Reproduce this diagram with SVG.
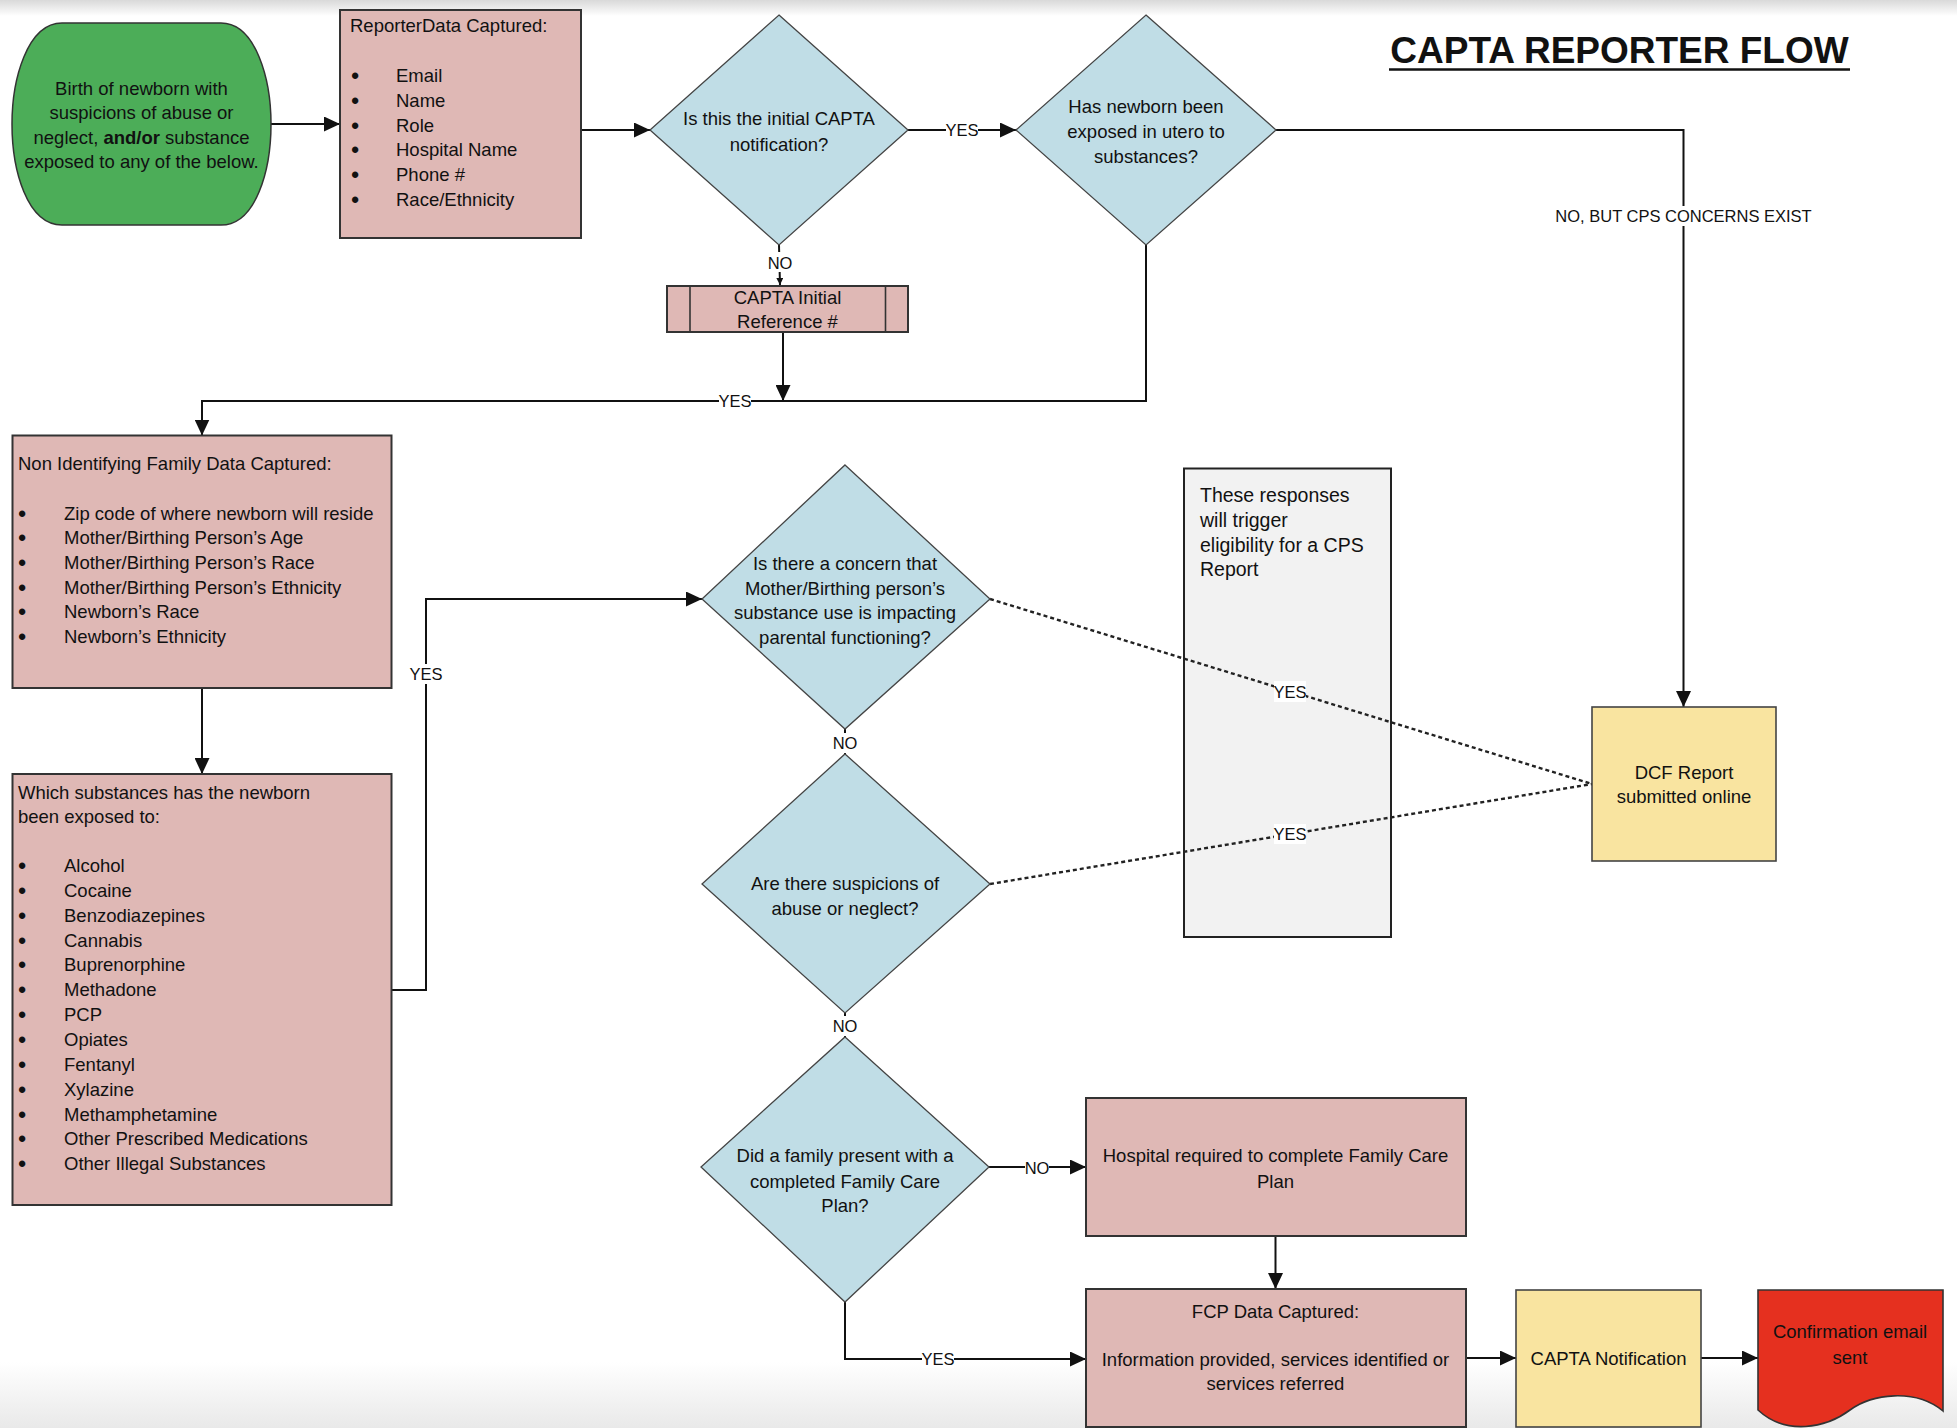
<svg xmlns="http://www.w3.org/2000/svg" width="1957" height="1428" viewBox="0 0 1957 1428">
  <defs>
    <linearGradient id="topShade" x1="0" y1="0" x2="0" y2="1">
      <stop offset="0" stop-color="#d9d9d9"/>
      <stop offset="1" stop-color="#ffffff"/>
    </linearGradient>
    <linearGradient id="bottomShade" x1="0" y1="0" x2="0" y2="1">
      <stop offset="0" stop-color="#ffffff"/>
      <stop offset="1" stop-color="#e9e9e9"/>
    </linearGradient>
    <marker id="arrow" viewBox="0 0 16 15" markerWidth="16" markerHeight="15" refX="16" refY="7.5" orient="auto" markerUnits="userSpaceOnUse">
      <path d="M0,0 L16,7.5 L0,15 Z" fill="#111"/>
    </marker>
    <marker id="arrowSmall" viewBox="0 0 7 7" markerWidth="7" markerHeight="7" refX="7" refY="3.5" orient="auto" markerUnits="userSpaceOnUse">
      <path d="M0,0 L7,3.5 L0,7 Z" fill="#111"/>
    </marker>
  </defs>
  <style>
    text { font-family: "Liberation Sans", Arial, sans-serif; font-size: 18.5px; fill: #111; }
    .c { text-anchor: middle; }
    .b { font-size: 22px; text-anchor: middle; font-weight: bold; }
    .lbl { font-size: 16.5px; text-anchor: middle; }
    .note { font-size: 19.5px; }
    .title { font-size: 37px; font-weight: bold; text-anchor: middle; }
    .box { fill: #dfb8b5; stroke: #333; stroke-width: 2; }
    .dia { fill: #c0dde6; stroke: #444; stroke-width: 1.3; }
    .yel { fill: #f9e4a0; stroke: #444; stroke-width: 1.6; }
    .wire { fill: none; stroke: #111; stroke-width: 2; }
    .dot { fill: none; stroke: #222; stroke-width: 2.4; stroke-dasharray: 4 3; }
    .bg { fill: #ffffff; }
  </style>

  <!-- page background with soft edge shading -->
  <rect x="0" y="0" width="1957" height="1428" fill="#ffffff"/>
  <rect x="0" y="0" width="1957" height="16" fill="url(#topShade)"/>
  <rect x="0" y="1362" width="1957" height="66" fill="url(#bottomShade)"/>

  <!-- heading -->
  <g id="heading">
    <text class="title" x="1619.5" y="63">CAPTA REPORTER FLOW</text>
    <line x1="1389" y1="69.5" x2="1850" y2="69.5" stroke="#111" stroke-width="2.5"/>
  </g>

  <!-- note on CPS eligibility (sits beneath the dotted connectors) -->
  <g id="cps-note">
    <rect x="1184" y="468.5" width="207" height="468.5" fill="#f2f2f2" stroke="#222" stroke-width="2"/>
    <text class="note" x="1200" y="502">These responses</text>
    <text class="note" x="1200" y="527">will trigger</text>
    <text class="note" x="1200" y="551.5">eligibility for a CPS</text>
    <text class="note" x="1200" y="576">Report</text>
  </g>

  <!-- connectors -->
  <g id="connectors">
    <line class="wire" x1="271" y1="124" x2="340" y2="124" marker-end="url(#arrow)"/>
    <line class="wire" x1="581" y1="130" x2="650" y2="130" marker-end="url(#arrow)"/>
    <line class="wire" x1="908" y1="130" x2="1016" y2="130" marker-end="url(#arrow)"/>
    <line class="wire" x1="779" y1="245" x2="780" y2="285" stroke-width="1.5" marker-end="url(#arrowSmall)"/>
    <line class="wire" x1="783" y1="332" x2="783" y2="401" marker-end="url(#arrow)"/>
    <polyline class="wire" points="1146,245 1146,401 202,401 202,435.5" marker-end="url(#arrow)"/>
    <polyline class="wire" points="1276,130 1683.5,130 1683.5,707" marker-end="url(#arrow)"/>
    <line class="wire" x1="202" y1="688" x2="202" y2="774" marker-end="url(#arrow)"/>
    <polyline class="wire" points="392,990 426,990 426,599 702,599" marker-end="url(#arrow)"/>
    <line class="wire" x1="845" y1="729" x2="845" y2="754"/>
    <line class="wire" x1="845" y1="1013" x2="845" y2="1037"/>
    <line class="dot" x1="990" y1="599" x2="1592" y2="784"/>
    <line class="dot" x1="990" y1="884" x2="1592" y2="784"/>
    <line class="wire" x1="989" y1="1167" x2="1086" y2="1167" marker-end="url(#arrow)"/>
    <line class="wire" x1="1275.5" y1="1236" x2="1275.5" y2="1289" marker-end="url(#arrow)"/>
    <polyline class="wire" points="845,1302 845,1359 1086,1359" marker-end="url(#arrow)"/>
    <line class="wire" x1="1466" y1="1358" x2="1516" y2="1358" marker-end="url(#arrow)"/>
    <line class="wire" x1="1701" y1="1358" x2="1758" y2="1358" marker-end="url(#arrow)"/>

    <!-- connector labels -->
    <rect class="bg" x="946" y="121" width="32" height="18"/>
    <text class="lbl" x="962" y="136">YES</text>
    <rect class="bg" x="768" y="252" width="24" height="20"/>
    <text class="lbl" x="780" y="269">NO</text>
    <rect class="bg" x="719" y="392" width="32" height="18"/>
    <text class="lbl" x="735" y="407">YES</text>
    <rect class="bg" x="1556" y="206" width="255" height="20"/>
    <text class="lbl" x="1683.5" y="222">NO, BUT CPS CONCERNS EXIST</text>
    <rect class="bg" x="410" y="664" width="32" height="20"/>
    <text class="lbl" x="426" y="680">YES</text>
    <rect class="bg" x="833" y="733" width="24" height="20"/>
    <text class="lbl" x="845" y="749">NO</text>
    <rect class="bg" x="833" y="1016" width="24" height="20"/>
    <text class="lbl" x="845" y="1032">NO</text>
    <rect class="bg" x="1025" y="1158" width="24" height="18"/>
    <text class="lbl" x="1037" y="1174">NO</text>
    <rect class="bg" x="922" y="1350" width="32" height="18"/>
    <text class="lbl" x="938" y="1365">YES</text>
    <rect class="bg" x="1274" y="681" width="32" height="21"/>
    <text class="lbl" x="1290" y="697.5">YES</text>
    <rect class="bg" x="1274" y="824" width="32" height="20"/>
    <text class="lbl" x="1290" y="840">YES</text>
  </g>

  <!-- start: birth of newborn -->
  <g id="start">
    <path d="M62,23 H221 C256,23 271,80 271,124 C271,170 256,225 221,225 H62 C27,225 12,170 12,124 C12,80 27,23 62,23 Z" fill="#4cad58" stroke="#333" stroke-width="1.5"/>
    <text class="c" x="141.5" y="94.5">Birth of newborn with</text>
    <text class="c" x="141.5" y="119">suspicions of abuse or</text>
    <text class="c" x="141.5" y="143.5">neglect, <tspan font-weight="bold">and/or</tspan> substance</text>
    <text class="c" x="141.5" y="168">exposed to any of the below.</text>
  </g>

  <!-- reporter data -->
  <g id="reporter-data">
    <rect class="box" x="340" y="10" width="241" height="228"/>
    <text x="350" y="32">ReporterData Captured:</text>
    <text class="b" x="355" y="82.5">•</text>
    <text class="b" x="355" y="107.5">•</text>
    <text class="b" x="355" y="132.5">•</text>
    <text class="b" x="355" y="156.5">•</text>
    <text class="b" x="355" y="181.5">•</text>
    <text class="b" x="355" y="206.5">•</text>
    <text x="396" y="81.5">Email</text>
    <text x="396" y="106.5">Name</text>
    <text x="396" y="131.5">Role</text>
    <text x="396" y="155.5">Hospital Name</text>
    <text x="396" y="180.5">Phone #</text>
    <text x="396" y="205.5">Race/Ethnicity</text>
  </g>

  <!-- decision: initial notification -->
  <g id="q-initial">
    <polygon class="dia" points="779,15 908,130 779,245 650,130"/>
    <text class="c" x="779" y="124.5">Is this the initial CAPTA</text>
    <text class="c" x="779" y="150.5">notification?</text>
  </g>

  <!-- decision: exposed in utero -->
  <g id="q-exposed">
    <polygon class="dia" points="1146,15 1276,130 1146,245 1016,130"/>
    <text class="c" x="1146" y="112.5">Has newborn been</text>
    <text class="c" x="1146" y="137.5">exposed in utero to</text>
    <text class="c" x="1146" y="162.5">substances?</text>
  </g>

  <!-- initial reference number -->
  <g id="initial-reference">
    <rect class="box" x="667" y="286" width="241" height="46" stroke-width="1.6"/>
    <line x1="690" y1="286" x2="690" y2="332" stroke="#333" stroke-width="1.6"/>
    <line x1="885.5" y1="286" x2="885.5" y2="332" stroke="#333" stroke-width="1.6"/>
    <text class="c" x="787.5" y="304">CAPTA Initial</text>
    <text class="c" x="787.5" y="328">Reference #</text>
  </g>

  <!-- non identifying family data -->
  <g id="family-data">
    <rect class="box" x="12.5" y="435.5" width="379" height="252.5"/>
    <text x="18" y="470">Non Identifying Family Data Captured:</text>
    <text class="b" x="22" y="520.5">•</text>
    <text class="b" x="22" y="545">•</text>
    <text class="b" x="22" y="569.5">•</text>
    <text class="b" x="22" y="594.5">•</text>
    <text class="b" x="22" y="619">•</text>
    <text class="b" x="22" y="644">•</text>
    <text x="64" y="519.5">Zip code of where newborn will reside</text>
    <text x="64" y="544">Mother/Birthing Person’s Age</text>
    <text x="64" y="568.5">Mother/Birthing Person’s Race</text>
    <text x="64" y="593.5">Mother/Birthing Person’s Ethnicity</text>
    <text x="64" y="618">Newborn’s Race</text>
    <text x="64" y="643">Newborn’s Ethnicity</text>
  </g>

  <!-- substances list -->
  <g id="substances">
    <rect class="box" x="12.5" y="774" width="379" height="431"/>
    <text x="18" y="799">Which substances has the newborn</text>
    <text x="18" y="823">been exposed to:</text>
    <text class="b" x="22" y="873">•</text>
    <text class="b" x="22" y="897.9">•</text>
    <text class="b" x="22" y="922.7">•</text>
    <text class="b" x="22" y="947.6">•</text>
    <text class="b" x="22" y="972.4">•</text>
    <text class="b" x="22" y="997.3">•</text>
    <text class="b" x="22" y="1022.1">•</text>
    <text class="b" x="22" y="1047">•</text>
    <text class="b" x="22" y="1071.8">•</text>
    <text class="b" x="22" y="1096.7">•</text>
    <text class="b" x="22" y="1121.5">•</text>
    <text class="b" x="22" y="1146.4">•</text>
    <text class="b" x="22" y="1171.2">•</text>
    <text x="64" y="872">Alcohol</text>
    <text x="64" y="896.9">Cocaine</text>
    <text x="64" y="921.7">Benzodiazepines</text>
    <text x="64" y="946.6">Cannabis</text>
    <text x="64" y="971.4">Buprenorphine</text>
    <text x="64" y="996.3">Methadone</text>
    <text x="64" y="1021.1">PCP</text>
    <text x="64" y="1046">Opiates</text>
    <text x="64" y="1070.8">Fentanyl</text>
    <text x="64" y="1095.7">Xylazine</text>
    <text x="64" y="1120.5">Methamphetamine</text>
    <text x="64" y="1145.4">Other Prescribed Medications</text>
    <text x="64" y="1170.2">Other Illegal Substances</text>
  </g>

  <!-- decision: parental functioning -->
  <g id="q-parental">
    <polygon class="dia" points="845,465 990,599 845,729 702,599"/>
    <text class="c" x="845" y="570">Is there a concern that</text>
    <text class="c" x="845" y="594.5">Mother/Birthing person’s</text>
    <text class="c" x="845" y="619">substance use is impacting</text>
    <text class="c" x="845" y="644">parental functioning?</text>
  </g>

  <!-- decision: abuse or neglect -->
  <g id="q-abuse">
    <polygon class="dia" points="845,754 990,884 845,1013 702,884"/>
    <text class="c" x="845" y="890">Are there suspicions of</text>
    <text class="c" x="845" y="914.5">abuse or neglect?</text>
  </g>

  <!-- decision: family care plan -->
  <g id="q-care-plan">
    <polygon class="dia" points="845,1037 989,1167 845,1302 701,1167"/>
    <text class="c" x="845" y="1161.5">Did a family present with a</text>
    <text class="c" x="845" y="1187.5">completed Family Care</text>
    <text class="c" x="845" y="1211.5">Plan?</text>
  </g>

  <!-- DCF report -->
  <g id="dcf-report">
    <rect class="yel" x="1592" y="707" width="184" height="154"/>
    <text class="c" x="1684" y="779">DCF Report</text>
    <text class="c" x="1684" y="803">submitted online</text>
  </g>

  <!-- hospital completes plan -->
  <g id="hospital-plan">
    <rect class="box" x="1086" y="1098" width="380" height="138" stroke-width="1.6"/>
    <text class="c" x="1275.5" y="1162">Hospital required to complete Family Care</text>
    <text class="c" x="1275.5" y="1187.5">Plan</text>
  </g>

  <!-- FCP data -->
  <g id="fcp-data">
    <rect class="box" x="1086" y="1289" width="380" height="138" stroke-width="1.6"/>
    <text class="c" x="1275.5" y="1318">FCP Data Captured:</text>
    <text class="c" x="1275.5" y="1366">Information provided, services identified or</text>
    <text class="c" x="1275.5" y="1390">services referred</text>
  </g>

  <!-- CAPTA notification -->
  <g id="capta-notification">
    <rect class="yel" x="1516" y="1290" width="185" height="137"/>
    <text class="c" x="1608.5" y="1364.5">CAPTA Notification</text>
  </g>

  <!-- confirmation email -->
  <g id="confirmation-email">
    <path d="M1758,1290 H1943 V1411 C1915,1388 1872,1394 1850,1410 C1826,1428 1786,1436 1758,1410 Z" fill="#e5301f" stroke="#333" stroke-width="1.6"/>
    <text class="c" x="1850" y="1338">Confirmation email</text>
    <text class="c" x="1850" y="1364">sent</text>
  </g>
</svg>
